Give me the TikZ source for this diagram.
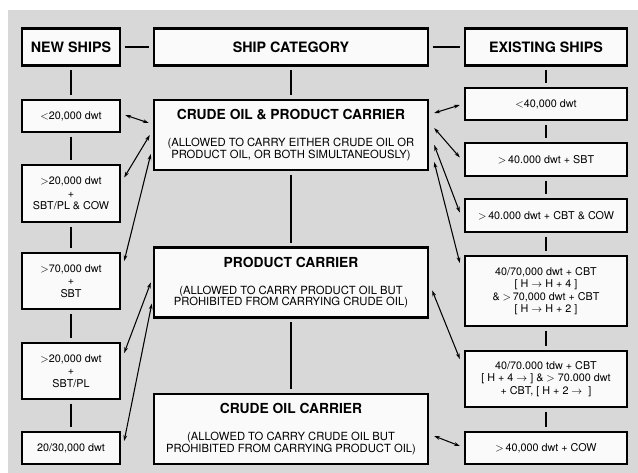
\documentclass[tikz,border=0pt]{standalone}
\usepackage{amsmath,amssymb}
\usepackage{fontspec}
\setmainfont{TeX Gyre Heros}
\usepackage{xcolor}
\usepackage{tikz}
\usetikzlibrary{calc,arrows.meta,positioning}

\definecolor{bggray}{RGB}{216,216,216}
\definecolor{boxwhite}{RGB}{250,250,250}

\begin{document}
\begin{tikzpicture}[x=0.03cm, y=-0.03cm,
    box/.style={draw=black, line width=2pt, fill=boxwhite, inner sep=0pt, align=center},
    lbox/.style={box, minimum width=2.94cm, font=\fontsize{9.2}{10.6}\selectfont},
    mbox/.style={box, minimum width=8.22cm, minimum height=2.1cm, font=\fontsize{9.6}{9.8}\selectfont},
    rbox/.style={box, minimum width=4.86cm, font=\fontsize{9.2}{10.6}\selectfont},
    headbox/.style={box, minimum height=1.1cm, font=\fontsize{12.2}{14}\selectfont\bfseries},
    link/.style={line width=2.4pt, shorten <=3pt, shorten >=3pt},
    arr/.style={{Stealth[length=5pt,width=3.2pt]}-{Stealth[length=5pt,width=3.2pt]}, line width=0.9pt}]
    \useasboundingbox (0,0) rectangle (638,473);
    \fill[bggray] (8,10) rectangle (638,473);
    % headings
    \node[headbox, minimum width=2.94cm] (news) at (71,47) {NEW SHIPS};
    \node[headbox, minimum width=8.22cm] (cat) at (291,47) {SHIP CATEGORY};
    \node[headbox, minimum width=4.86cm] (exist) at (546,47) {EXISTING SHIPS};
    % new ships
    \node[lbox, minimum height=0.96cm] (l1) at (71,116) {$<$20,000 dwt};
    \node[lbox, minimum height=1.71cm] (l2) at (71,193.5) {$>$20,000 dwt\\+\\SBT/PL \& COW};
    \node[lbox, minimum height=1.68cm] (l3) at (71,281) {$>$70,000 dwt\\+\\SBT};
    \node[lbox, minimum height=1.68cm] (l4) at (71,371) {$>$20,000 dwt\\+\\SBT/PL};
    \node[lbox, minimum height=0.96cm] (l5) at (71,448) {20/30,000 dwt};
    % ship categories
    \node[mbox] (cpc) at (291,135) {{\fontsize{11.8}{13}\selectfont\bfseries CRUDE OIL \& PRODUCT CARRIER}\\[13pt]
        (ALLOWED TO CARRY EITHER CRUDE OIL OR\\PRODUCT OIL, OR BOTH SIMULTANEOUSLY)};
    \node[mbox] (pc) at (291,282.5) {{\fontsize{11.8}{13}\selectfont\bfseries PRODUCT CARRIER}\\[13pt]
        (ALLOWED TO CARRY PRODUCT OIL BUT\\PROHIBITED FROM CARRYING CRUDE OIL)};
    \node[mbox] (coc) at (291,429) {{\fontsize{11.8}{13}\selectfont\bfseries CRUDE OIL CARRIER}\\[13pt]
        (ALLOWED TO CARRY CRUDE OIL BUT\\PROHIBITED FROM CARRYING PRODUCT OIL)};
    % existing ships
    \node[rbox, minimum height=0.96cm] (r1) at (546,104) {$<$40,000 dwt};
    \node[rbox, minimum height=0.99cm] (r2) at (546,159.5) {$>$\,40.000 dwt + SBT};
    \node[rbox, minimum height=0.99cm] (r3) at (546,215.5) {$>$\,40.000 dwt + CBT \& COW};
    \node[rbox, minimum height=2.1cm] (r4) at (546,291) {40/70,000 dwt + CBT\\{}[ H $\rightarrow$ H + 4 ]\\
        \& $>$\,70,000 dwt + CBT\\{}[ H $\rightarrow$ H + 2 ]};
    \node[rbox, minimum height=1.68cm] (r5) at (546,379) {40/70.000 tdw + CBT\\{}[ H + 4 $\rightarrow$ ] \& $>$ 70.000 dwt\\
        + CBT, [ H + 2 $\rightarrow$ \ ]};
    \node[rbox, minimum height=0.96cm] (r6) at (546,448) {$>$\,40,000 dwt + COW};
    % thick links
    \draw[link] (news) -- (cat);
    \draw[link] (cat) -- (exist);
    \draw[link] (news) -- (l1);
    \draw[link] (l1) -- (l2);
    \draw[link] (l2) -- (l3);
    \draw[link] (l3) -- (l4);
    \draw[link] (l4) -- (l5);
    \draw[link] (cat) -- (cpc);
    \draw[link] (cpc) -- (pc);
    \draw[link] (pc) -- (coc);
    \draw[link] (exist) -- (r1);
    \draw[link] (r1) -- (r2);
    \draw[link] (r2) -- (r3);
    \draw[link] (r3) -- (r4);
    \draw[link] (r4) -- (r5);
    \draw[link] (r5) -- (r6);
    % arrows to new ships
    \draw[arr] ($(cpc.west)+(-4,-12)$) -- ($(l1.east)+(4,-1)$);
    \draw[arr] ($(cpc.west)+(-3,0)$) -- ($(l2.east)+(3,-16)$);
    \draw[arr] ($(cpc.west)+(-2,19)$) -- ($(l3.east)+(3,-20)$);
    \draw[arr] ($(pc.west)+(-2,0)$) -- ($(l4.east)+(3,-18)$);
    \draw[arr] ($(pc.west)+(-1,21)$) -- ($(l5.east)+(3,-7)$);
    % arrows to existing ships
    \draw[arr] ($(cpc.east)+(5,-22)$) -- ($(r1.west)+(-4,1)$);
    \draw[arr] ($(cpc.east)+(5,-7)$) -- ($(r2.west)+(-4,-2)$);
    \draw[arr] ($(cpc.east)+(5,10)$) -- ($(r3.west)+(-4,-3)$);
    \draw[arr] ($(cpc.east)+(5,27)$) -- ($(r4.west)+(-4,-28)$);
    \draw[arr] ($(pc.east)+(3,8)$) -- ($(r5.west)+(-4,-20)$);
    \draw[arr] ($(coc.east)+(5,7)$) -- ($(r6.west)+(-4,-2)$);
\end{tikzpicture}
\end{document}
